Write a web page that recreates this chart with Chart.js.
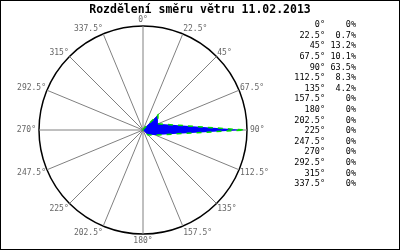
<!DOCTYPE html>
<html>
<head>
<meta charset="utf-8">
<script src="https://cdn.jsdelivr.net/npm/chart.js@4"></script>
<style>
html,body{margin:0;padding:0;background:#fff;}
#wrap{position:relative;width:400px;height:250px;}
</style>
</head>
<body>
<div id="wrap"><canvas id="c" width="400" height="250"></canvas></div>
<script>
const titleText = "Rozdělení směru větru 11.02.2013";
const directions = ["0°","22.5°","45°","67.5°","90°","112.5°","135°","157.5°","180°","202.5°","225°","247.5°","270°","292.5°","315°","337.5°"];
const percentages = [0, 0.7, 13.2, 10.1, 63.5, 8.3, 4.2, 0, 0, 0, 0, 0, 0, 0, 0, 0];
const scaleMax = 65;

function fmtPct(v){ return v === 0 ? "0%" : v.toFixed(1) + "%"; }

const decorPlugin = {
  id: 'decor',
  afterDraw(chart){
    const ctx = chart.ctx;
    const r = chart.scales.r;
    ctx.save();
    // point labels
    ctx.font = "8px 'DejaVu Sans Mono', monospace";
    ctx.fillStyle = "#666666";
    ctx.textBaseline = "middle";
    directions.forEach((lab, i) => {
      const ang = i * 360 / directions.length;
      const rad = ang * Math.PI / 180;
      let p, align, dy;
      if (ang === 0) { p = r.getPointPosition(i, r.drawingArea + 6); align = "center"; dy = 0; }
      else if (ang === 180) { p = r.getPointPosition(i, r.drawingArea + 7); align = "center"; dy = 0; }
      else {
        p = r.getPointPosition(i, r.drawingArea + 1);
        align = ang < 180 ? "left" : "right";
        const c = Math.cos(rad);
        dy = -c * (c > 0 ? 4 : 6);
        if (ang === 90 || ang === 270) { p = r.getPointPosition(i, r.drawingArea + 3); dy = 0; }
      }
      ctx.textAlign = align;
      ctx.fillText(lab, p.x, p.y + dy);
    });
    // title
    ctx.font = "bold 11.5px 'DejaVu Sans Mono', monospace";
    ctx.fillStyle = "#000";
    ctx.textAlign = "center";
    ctx.fillText(titleText, 200, 10);
    // table
    ctx.font = "8.5px 'DejaVu Sans Mono', monospace";
    ctx.textAlign = "right";
    directions.forEach((lab, i) => {
      const y = 25 + i * 10.6;
      ctx.fillText(lab, 325, y);
      ctx.fillText(fmtPct(percentages[i]), 356, y);
    });
    // frame
    ctx.strokeStyle = "#000";
    ctx.lineWidth = 1;
    ctx.strokeRect(0.5, 0.5, 399, 249);
    ctx.restore();
  }
};

new Chart(document.getElementById('c'), {
  type: 'radar',
  data: {
    labels: directions,
    datasets: [{
      data: percentages,
      backgroundColor: '#0000ff',
      borderColor: '#00dd00',
      borderWidth: 1.5,
      borderDash: [5, 5],
      fill: true,
      pointRadius: 0,
      tension: 0
    }]
  },
  options: {
    responsive: false,
    animation: false,
    layout: { padding: { left: 39, right: 153, top: 26, bottom: 16 } },
    plugins: { legend: { display: false }, tooltip: { enabled: false }, title: { display: false } },
    scales: {
      r: {
        min: 0,
        max: scaleMax,
        ticks: { display: false, stepSize: scaleMax },
        grid: { circular: true, color: '#000', lineWidth: 1.5 },
        angleLines: { color: '#808080', lineWidth: 1 },
        pointLabels: { display: false }
      }
    }
  },
  plugins: [decorPlugin]
});
</script>
</body>
</html>
